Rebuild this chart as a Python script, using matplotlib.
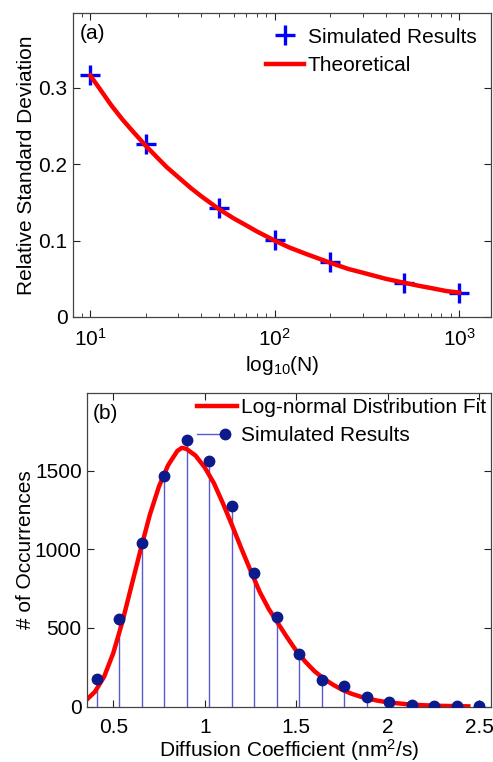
import matplotlib
matplotlib.use('Agg')
import matplotlib.pyplot as plt
from matplotlib.lines import Line2D
from matplotlib.legend_handler import HandlerBase
from matplotlib.ticker import FixedLocator, LogLocator, NullFormatter

plt.rcParams['font.family'] = ['Liberation Sans', 'DejaVu Sans']
plt.rcParams['font.size'] = 15
plt.rcParams['mathtext.default'] = 'regular'

# panel (a): relative standard deviation vs number of molecules
n_sim = [10, 20, 50, 100, 200, 500, 1000]
rsd_sim = [0.317, 0.226, 0.143, 0.101, 0.072, 0.045, 0.032]
n_theory = [10, 11, 12, 13, 15, 17, 20, 23, 26, 30, 35, 40, 45, 50, 60, 70, 80,
            100, 120, 150, 200, 250, 300, 400, 500, 600, 700, 850, 1000]
rsd_theory = [0.316, 0.302, 0.289, 0.277, 0.258, 0.243, 0.224, 0.209, 0.196,
              0.183, 0.169, 0.158, 0.149, 0.141, 0.129, 0.120, 0.112,
              0.100, 0.091, 0.082, 0.071, 0.063, 0.058, 0.050, 0.045, 0.041,
              0.038, 0.034, 0.032]

# panel (b): histogram of diffusion coefficients
dc_bins = [0.410, 0.533, 0.656, 0.779, 0.902, 1.025, 1.147, 1.270, 1.393,
           1.516, 1.639, 1.762, 1.885, 2.008, 2.131, 2.254, 2.376, 2.499]
counts = [176, 555, 1038, 1466, 1694, 1563, 1277, 847, 568,
          335, 170, 131, 60, 30, 8, 4, 3, 2]
dc_fit = [0.36, 0.40, 0.45, 0.50, 0.55, 0.60, 0.65, 0.70, 0.75, 0.80, 0.85, 0.875,
          0.90, 0.95, 1.00, 1.05, 1.10, 1.15, 1.20, 1.25, 1.30, 1.35, 1.40, 1.45,
          1.50, 1.55, 1.60, 1.65, 1.70, 1.75, 1.80, 1.85, 1.90, 1.95, 2.00, 2.10,
          2.20, 2.30, 2.44]
count_fit = [50, 95, 190, 340, 540, 770, 1000, 1220, 1400, 1535, 1625, 1645,
             1638, 1595, 1520, 1420, 1290, 1150, 1005, 865, 730, 620, 530, 440,
             355, 285, 225, 178, 140, 108, 83, 64, 49, 37, 28, 16,
             9, 5, 2]

stem_color = '#5a5ad0'
dot_color = '#0c1a8c'


class StemHandler(HandlerBase):
    # matlab style stem legend: line with the marker near the right end
    def create_artists(self, legend, orig_handle, xdescent, ydescent,
                       width, height, fontsize, trans):
        y = (height - ydescent) / 2.
        line = Line2D([-xdescent, 0.7 * width - xdescent], [y, y], color=stem_color, lw=1)
        dot = Line2D([0.7 * width - xdescent], [y], marker='o', color=dot_color,
                     markersize=7.5, linestyle='none')
        line.set_transform(trans)
        dot.set_transform(trans)
        return [line, dot]


def style_axes(ax):
    ax.tick_params(which='both', direction='in', top=True, right=True,
                   colors='#222222', labelcolor='black')
    ax.tick_params(which='major', length=5)
    ax.tick_params(which='minor', length=3)
    ax.tick_params(axis='x', pad=8)
    ax.tick_params(axis='y', pad=4)
    for sp in ax.spines.values():
        sp.set_color('#444444')
        sp.set_linewidth(0.9)


fig = plt.figure(figsize=(4.93, 7.62), dpi=100)

# --- panel (a) ---
ax1 = fig.add_axes([0.148, 0.584, 0.848, 0.399])
ax1.plot(n_sim, rsd_sim, '+', color='#0000ff', markersize=15, markeredgewidth=2.4,
         label='Simulated Results')
ax1.plot(n_theory, rsd_theory, '-', color='#ff0000', linewidth=3.2, label='Theoretical')
ax1.set_xscale('log')
ax1.set_xlim(8.05, 1490)
ax1.set_ylim(0, 0.398)
ax1.set_yticks([0, 0.1, 0.2, 0.3])
ax1.set_yticklabels(['0', '0.1', '0.2', '0.3'])
ax1.xaxis.set_minor_locator(LogLocator(base=10, subs=range(2, 10)))
ax1.xaxis.set_minor_formatter(NullFormatter())
ax1.set_xlabel('log$_{10}$(N)', labelpad=3)
ax1.set_ylabel('Relative Standard Deviation', labelpad=2)
ax1.text(0.017, 0.934, '(a)', transform=ax1.transAxes, ha='left', va='center')
ax1.legend(loc='upper right', frameon=False, numpoints=1, handlelength=1.8,
           handletextpad=0.2, labelspacing=0.45, borderaxespad=0.5, borderpad=0.2)
style_axes(ax1)

# --- panel (b) ---
ax2 = fig.add_axes([0.177, 0.0726, 0.819, 0.412])
markerline, stemlines, baseline = ax2.stem(dc_bins, counts)
plt.setp(stemlines, color=stem_color, linewidth=1, zorder=1)
plt.setp(markerline, color=dot_color, markersize=7.5, zorder=3)
baseline.set_visible(False)
ax2.plot(dc_fit, count_fit, '-', color='#ff0000', linewidth=3.2, zorder=2)
ax2.set_xlim(0.358, 2.564)
ax2.set_ylim(0, 1995)
ax2.xaxis.set_major_locator(FixedLocator([0.5, 1, 1.5, 2, 2.5]))
ax2.set_xticklabels(['0.5', '1', '1.5', '2', '2.5'])
ax2.set_yticks([0, 500, 1000, 1500])
ax2.set_xlabel('Diffusion Coefficient (nm$^2$/s)', labelpad=0)
ax2.set_ylabel('# of Occurrences', labelpad=0)
ax2.text(0.013, 0.934, '(b)', transform=ax2.transAxes, ha='left', va='center')
fit_handle = Line2D([], [], color='#ff0000', linewidth=3.2)
stem_handle = Line2D([], [], color=stem_color)
ax2.legend([fit_handle, stem_handle], ['Log-normal Distribution Fit', 'Simulated Results'],
           handler_map={stem_handle: StemHandler()}, loc='upper right', frameon=False,
           handlelength=1.9, handletextpad=0.2, labelspacing=0.45,
           borderaxespad=0.05, borderpad=0.2)
style_axes(ax2)

fig.savefig('out.png', dpi=100)
